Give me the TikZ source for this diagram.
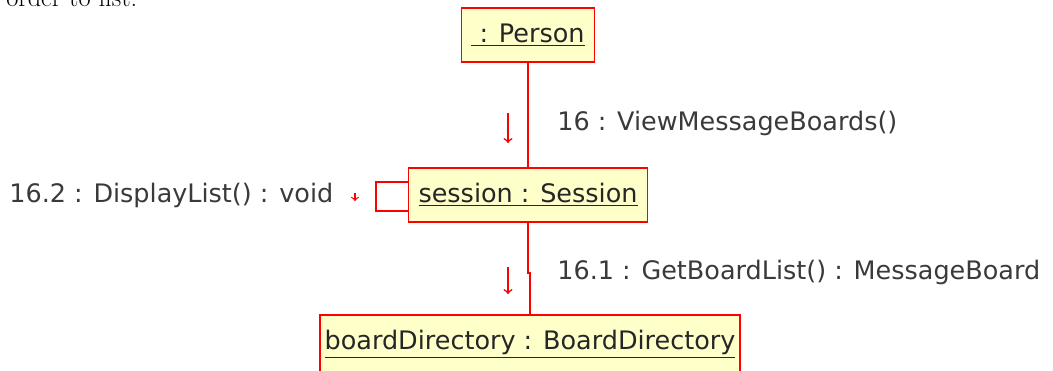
\documentclass[tikz,border=0pt]{standalone}
\usepackage{fontspec}
\newfontfamily\umlfont{DejaVu Sans}
\definecolor{umlyellow}{RGB}{255,255,202}
\definecolor{umlgray}{RGB}{58,58,58}
\tikzset{
  object/.style={draw=red, fill=umlyellow, line width=1.1pt, inner sep=0pt,
    minimum height=1.08cm, text=black!85, font=\umlfont\fontsize{14.5}{17}\selectfont},
  msg/.style={inner sep=0pt, anchor=west, text=umlgray, font=\umlfont\fontsize{14.5}{17}\selectfont},
  link/.style={draw, red, line width=1.1pt},
  call/.style={draw, red, line width=0.9pt, ->}
}

\begin{document}
\begin{tikzpicture}[x=0.02cm,y=-0.02cm]
\clip (0,0) rectangle (1053,370);
\node[anchor=base west, inner sep=0pt, font=\fontsize{15}{18}\selectfont] (prev) at (6,6) {order to list.};
\node[object, minimum width=2.66cm] (person) at (528,35) {\underline{\ : Person}};
\node[object, minimum width=4.78cm] (session) at (528,195) {\underline{session : Session}};
\node[object, minimum width=8.4cm, minimum height=1.16cm] (board) at (530,344) {\underline{boardDirectory : BoardDirectory}};
\path[link] (person.south) -- (person.south |- session.north);
\path[link] (session.south) -- ++(0,50) -| (board.north);
\path[link] ([yshift=0.26cm]session.west) -- ++(-32,0) |- ([yshift=-0.32cm]session.west);
\coordinate (a1) at (508,113);
\coordinate (b1) at (508,143);
\coordinate (a2) at (508,267);
\coordinate (b2) at (508,294);
\coordinate (a3) at (355,193);
\coordinate (b3) at (355,201);
\path[call] (a1) -- (b1);
\path[call] (a2) -- (b2);
\path[call, line width=0.7pt] (a3) -- (b3);
\node[msg] (m16) at (557,123) {16 : ViewMessageBoards()};
\node[msg] (m161) at (557,272) {16.1 : GetBoardList() : MessageBoard};
\node[msg] (m162) at (9,195) {16.2 : DisplayList() : void};
\end{tikzpicture}
\end{document}
